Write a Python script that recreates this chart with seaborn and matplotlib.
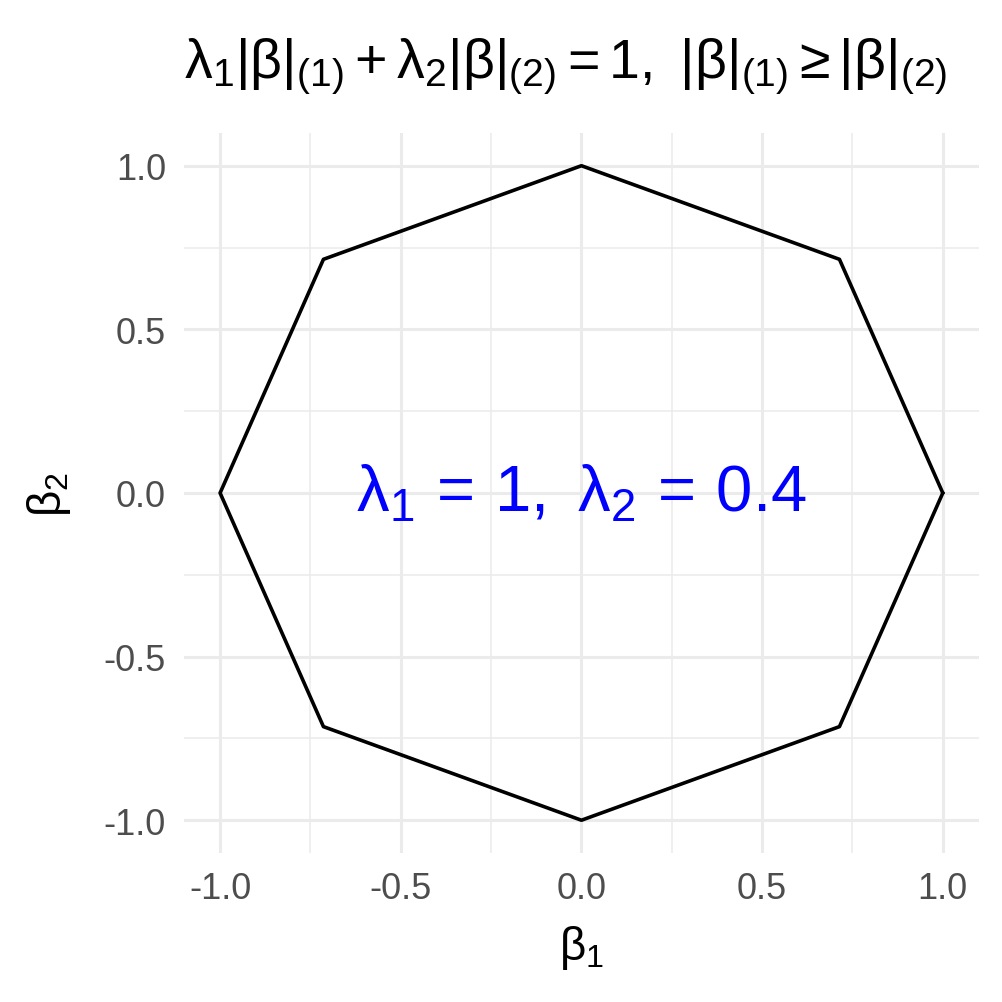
import numpy as np
import pandas as pd
import matplotlib
matplotlib.use("Agg")
import matplotlib.pyplot as plt
import seaborn as sns

# octagon vertices (closed path) for lambda1 = 1, lambda2 = 0.4
beta1 = [1.0, 0.714, 0.0, -0.714, -1.0, -0.714, 0.0, 0.714, 1.0]
beta2 = [0.0, 0.714, 1.0, 0.714, 0.0, -0.714, -1.0, -0.714, 0.0]
ticks = [-1.0, -0.5, 0.0, 0.5, 1.0]
minor_ticks = [-0.75, -0.25, 0.25, 0.75]

df = pd.DataFrame({"b1": beta1, "b2": beta2})

sns.set_theme(style="white")
plt.rcParams["font.family"] = ["Liberation Sans", "DejaVu Sans"]
plt.rcParams["mathtext.fontset"] = "custom"
plt.rcParams["mathtext.rm"] = "Liberation Sans"
plt.rcParams["mathtext.it"] = "Liberation Sans"
plt.rcParams["mathtext.bf"] = "Liberation Sans:bold"
plt.rcParams["mathtext.default"] = "regular"
plt.rcParams["text.color"] = "black"
plt.rcParams["axes.labelcolor"] = "black"

fig = plt.figure(figsize=(10.03, 10.03), dpi=100)
ax = fig.add_axes([0.1834, 0.1486, 0.7926, 0.7178])

sns.lineplot(data=df, x="b1", y="b2", sort=False, estimator=None,
             color="black", linewidth=2.6, ax=ax)

ax.set_xlim(-1.1, 1.1)
ax.set_ylim(-1.1, 1.1)
ax.set_xticks(ticks)
ax.set_yticks(ticks)
ax.set_xticks(minor_ticks, minor=True)
ax.set_yticks(minor_ticks, minor=True)
ax.set_xticklabels([f"{t:.1f}" for t in ticks])
ax.set_yticklabels([f"{t:.1f}" for t in ticks])
ax.grid(which="major", color="#EBEBEB", linewidth=2.2)
ax.grid(which="minor", color="#EBEBEB", linewidth=1.1)
ax.set_axisbelow(True)
for s in ax.spines.values():
    s.set_visible(False)
ax.tick_params(which="both", length=0)
ax.tick_params(axis="both", labelsize=26, labelcolor="#4D4D4D", pad=13)

ax.set_xlabel(r"$\beta_1$", fontsize=33, labelpad=12, color="black")
ax.set_ylabel(r"$\beta_2$", fontsize=33, labelpad=22, color="black")
ax.set_title(r"$\lambda_1|\beta|_{(1)}+\lambda_2|\beta|_{(2)}=1,\ |\beta|_{(1)}\geq|\beta|_{(2)}$",
             fontsize=40, loc="left", pad=40, color="black")

ax.text(0, 0, r"$\lambda_1\,=\,1,\ \lambda_2\,=\,0.4$", color="blue", fontsize=47,
        ha="center", va="center")

fig.savefig("out.png", dpi=100, facecolor="white")
